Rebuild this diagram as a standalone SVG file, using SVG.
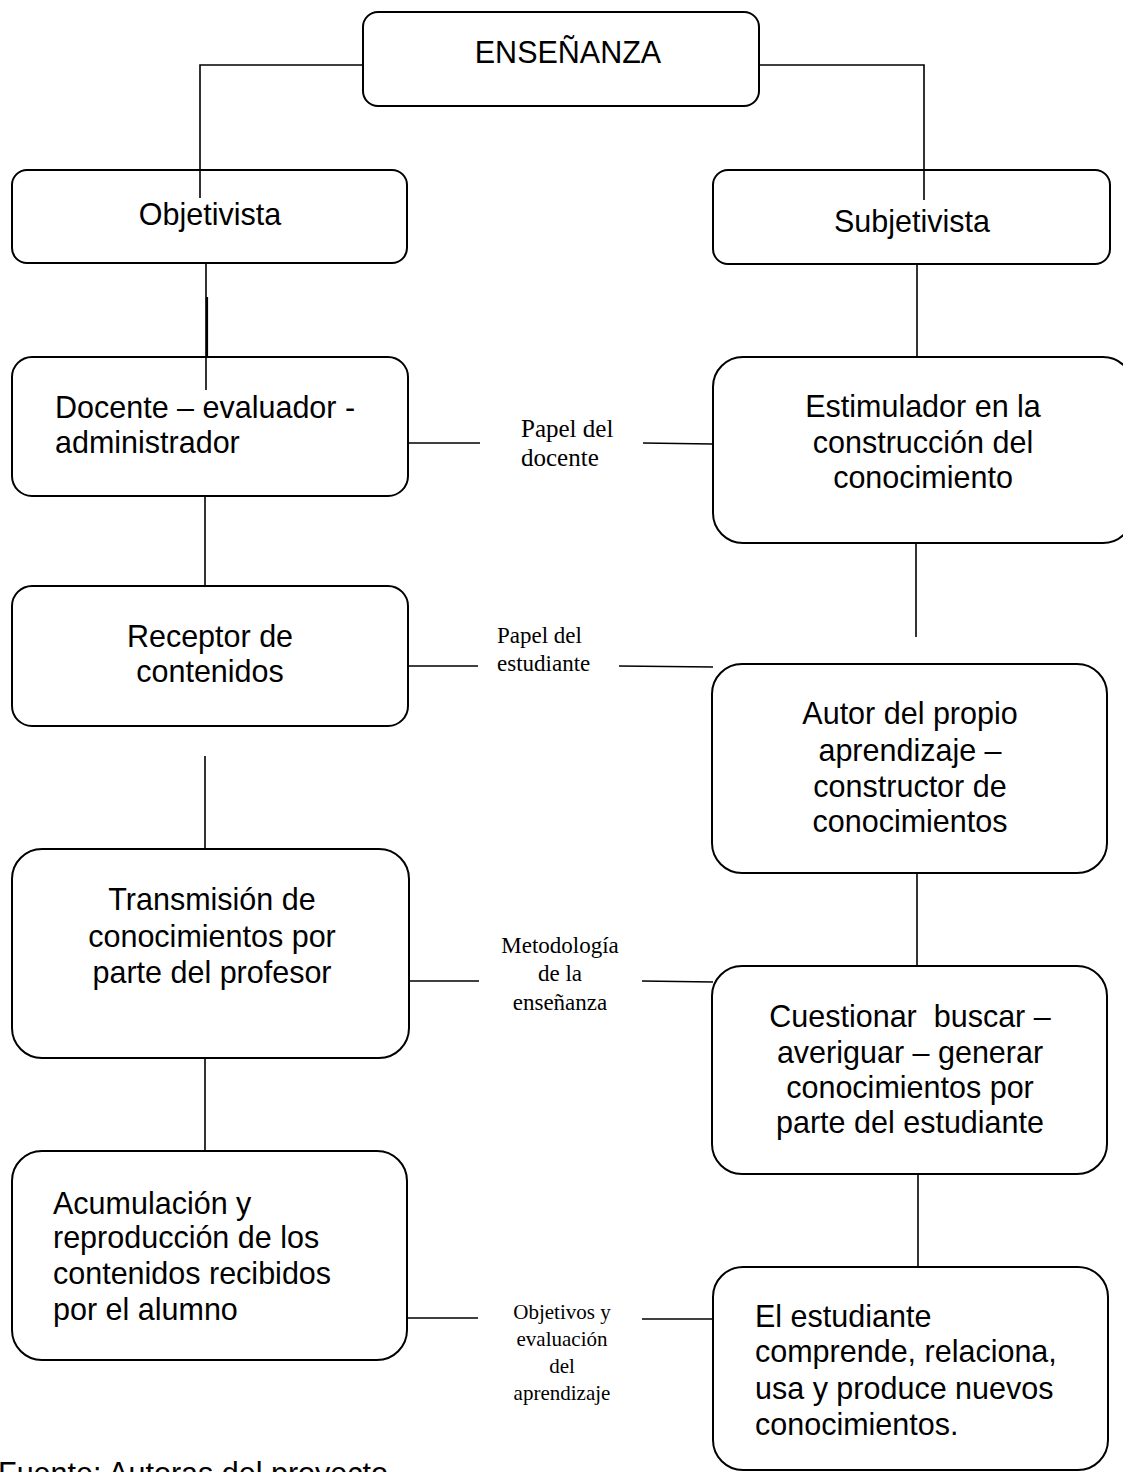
<svg xmlns="http://www.w3.org/2000/svg" width="1123" height="1472" viewBox="0 0 1123 1472">
<style>
.box{fill:none;stroke:#000;stroke-width:2}
.ln{stroke:#000;stroke-width:1.6;fill:none}
.t{font-family:"Liberation Sans",Arial,sans-serif;font-size:30.5px;fill:#000}
.c{text-anchor:middle}
.lb{font-family:"Liberation Serif","Times New Roman",serif;fill:#000}
</style>
<rect width="1123" height="1472" fill="#fff"/>
<g id="connectors">
<polyline class="ln" points="363,65 200,65 200,198"/>
<polyline class="ln" points="759,65 924,65 924,200"/>
<line class="ln" x1="206" y1="263" x2="206" y2="390"/>
<line x1="207" y1="297" x2="207" y2="357" stroke="#000" stroke-width="2.2"/>
<line class="ln" x1="917" y1="264" x2="917" y2="357"/>
<line class="ln" x1="205" y1="496" x2="205" y2="586"/>
<line class="ln" x1="916" y1="543" x2="916" y2="637"/>
<line class="ln" x1="205" y1="756" x2="205" y2="849"/>
<line class="ln" x1="917" y1="873" x2="917" y2="966"/>
<line class="ln" x1="205" y1="1058" x2="205" y2="1152"/>
<line class="ln" x1="918" y1="1174" x2="918" y2="1267"/>
<line class="ln" x1="408" y1="443" x2="480" y2="443"/>
<line class="ln" x1="643" y1="443" x2="712" y2="444"/>
<line class="ln" x1="408" y1="666" x2="478" y2="666"/>
<line class="ln" x1="619" y1="666" x2="713" y2="667"/>
<line class="ln" x1="409" y1="981" x2="479" y2="981"/>
<line class="ln" x1="642" y1="981" x2="713" y2="982"/>
<line class="ln" x1="407" y1="1318" x2="478" y2="1318"/>
<line class="ln" x1="642" y1="1319" x2="713" y2="1319"/>
</g>
<g id="ensenanza">
<rect class="box" x="363" y="12" width="396" height="94" rx="15"/>
<text class="t c" x="568" y="63">ENSEÑANZA</text>
</g>
<g id="objetivista">
<rect class="box" x="12" y="170" width="395" height="93" rx="15"/>
<text class="t c" x="210" y="225">Objetivista</text>
</g>
<g id="subjetivista">
<rect class="box" x="713" y="170" width="397" height="94" rx="15"/>
<text class="t c" x="912" y="232">Subjetivista</text>
</g>
<g id="docente">
<rect class="box" x="12" y="357" width="396" height="139" rx="20"/>
<text class="t" x="55" y="418">Docente – evaluador -</text>
<text class="t" x="55" y="453">administrador</text>
</g>
<g id="estimulador">
<rect class="box" x="713" y="357" width="420" height="186" rx="30"/>
<text class="t c" x="923" y="417">Estimulador en la</text>
<text class="t c" x="923" y="453">construcción del</text>
<text class="t c" x="923" y="488">conocimiento</text>
</g>
<g id="receptor">
<rect class="box" x="12" y="586" width="396" height="140" rx="20"/>
<text class="t c" x="210" y="647">Receptor de</text>
<text class="t c" x="210" y="682">contenidos</text>
</g>
<g id="autor">
<rect class="box" x="712" y="664" width="395" height="209" rx="30"/>
<text class="t c" x="910" y="724">Autor del propio</text>
<text class="t c" x="910" y="761">aprendizaje –</text>
<text class="t c" x="910" y="797">constructor de</text>
<text class="t c" x="910" y="832">conocimientos</text>
</g>
<g id="transmision">
<rect class="box" x="12" y="849" width="397" height="209" rx="30"/>
<text class="t c" x="212" y="910">Transmisión de</text>
<text class="t c" x="212" y="947">conocimientos por</text>
<text class="t c" x="212" y="983">parte del profesor</text>
</g>
<g id="cuestionar">
<rect class="box" x="712" y="966" width="395" height="208" rx="30"/>
<text class="t c" x="910" y="1027" xml:space="preserve">Cuestionar  buscar –</text>
<text class="t c" x="910" y="1063">averiguar – generar</text>
<text class="t c" x="910" y="1098">conocimientos por</text>
<text class="t c" x="910" y="1133">parte del estudiante</text>
</g>
<g id="acumulacion">
<rect class="box" x="12" y="1151" width="395" height="209" rx="30"/>
<text class="t" x="53" y="1214">Acumulación y</text>
<text class="t" x="53" y="1248">reproducción de los</text>
<text class="t" x="53" y="1284">contenidos recibidos</text>
<text class="t" x="53" y="1320">por el alumno</text>
</g>
<g id="el-estudiante">
<rect class="box" x="713" y="1267" width="395" height="203" rx="30"/>
<text class="t" x="755" y="1327">El estudiante</text>
<text class="t" x="755" y="1362">comprende, relaciona,</text>
<text class="t" x="755" y="1399">usa y produce nuevos</text>
<text class="t" x="755" y="1435">conocimientos.</text>
</g>
<g id="label-papel-docente">
<text class="lb" font-size="25" x="521" y="437">Papel del</text>
<text class="lb" font-size="25" x="521" y="466">docente</text>
</g>
<g id="label-papel-estudiante">
<text class="lb" font-size="23" x="497" y="643">Papel del</text>
<text class="lb" font-size="23" x="497" y="671">estudiante</text>
</g>
<g id="label-metodologia">
<text class="lb c" font-size="23" x="560" y="953">Metodología</text>
<text class="lb c" font-size="23" x="560" y="981">de la</text>
<text class="lb c" font-size="23" x="560" y="1010">enseñanza</text>
</g>
<g id="label-objetivos">
<text class="lb c" font-size="21" x="562" y="1319">Objetivos y</text>
<text class="lb c" font-size="21" x="562" y="1346">evaluación</text>
<text class="lb c" font-size="21" x="562" y="1373">del</text>
<text class="lb c" font-size="21" x="562" y="1400">aprendizaje</text>
</g>
<text class="t" x="-2" y="1484">Fuente: Autoras del proyecto</text>
</svg>
